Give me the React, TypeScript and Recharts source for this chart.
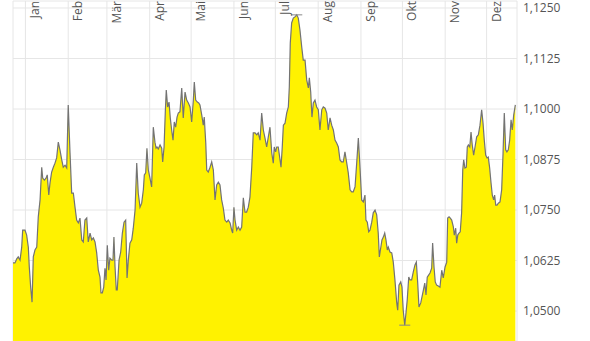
import { AreaChart, Area, XAxis, YAxis, CartesianGrid, ReferenceLine } from 'recharts'

// days since 23 Dec
const days = [
  0, 1.4, 2.7, 3.8, 5.1, 6.3, 7.0, 8.7, 9.9, 11.1, 11.8, 12.8, 13.8, 14.7, 15.9, 17.2, 18.3, 19.6, 20.8, 21.5,
  22.7, 23.9, 24.8, 25.9, 26.8, 28.0, 29.2, 30.4, 31.6, 32.8, 34.0, 35.3, 36.4, 37.7, 38.9, 40.0, 41.3, 42.5, 43.7, 44.9,
  46.1, 47.3, 48.5, 49.8, 50.9, 52.1, 53.4, 54.5, 55.8, 57.0, 58.2, 59.4, 60.6, 61.8, 63.0, 63.7, 64.7, 65.7, 66.6, 67.4,
  68.3, 69.3, 70.2, 71.5, 72.4, 73.1, 73.9, 74.8, 75.5, 76.8, 78.0, 79.2, 80.4, 81.6, 82.6, 83.5, 84.7, 86.0, 87.1, 88.4,
  89.6, 90.7, 92.0, 93.2, 94.4, 95.1, 96.1, 97.0, 98.0, 99.2, 100.4, 101.6, 102.8, 103.6, 104.3, 105.2, 106.5, 107.7, 108.4, 109.4,
  110.3, 111.0, 112.0, 113.0, 113.9, 114.9, 115.9, 116.8, 117.8, 118.8, 119.7, 120.9, 122.2, 123.3, 124.6, 125.8, 127.0, 128.2, 129.4, 130.6,
  131.3, 132.3, 133.5, 134.5, 135.4, 136.7, 137.8, 138.5, 139.6, 140.3, 141.4, 142.7, 143.9, 145.1, 146.3, 147.5, 148.7, 149.9, 151.1, 152.3,
  153.5, 154.8, 155.9, 157.2, 158.4, 159.1, 160.0, 160.8, 162.0, 163.2, 164.4, 165.6, 166.8, 168.0, 169.2, 170.4, 171.6, 172.9, 174.0, 175.3,
  176.5, 177.6, 178.9, 180.1, 181.3, 182.5, 183.7, 184.9, 186.1, 187.4, 188.5, 189.2, 190.2, 191.0, 192.1, 193.4, 194.1, 195.0, 195.8, 197.0,
  198.2, 199.4, 200.1, 200.8, 201.8, 203.0, 204.2, 205.5, 206.6, 207.8, 209.1, 210.2, 211.5, 212.7, 213.9, 214.6, 215.6, 216.5, 217.5, 218.7,
  219.9, 221.1, 222.3, 223.6, 224.7, 226.0, 227.2, 228.3, 229.6, 230.8, 232.0, 233.2, 234.4, 235.6, 236.8, 238.0, 239.2, 240.4, 241.7, 242.8,
  244.1, 245.3, 246.4, 247.7, 248.9, 250.1, 251.3, 252.5, 253.7, 254.9, 255.6, 256.6, 257.6, 258.5, 259.8, 260.9, 262.2, 263.4, 264.5, 265.3,
  266.3, 267.2, 268.2, 269.2, 270.1, 271.1, 271.8, 273.0, 274.3, 275.4, 276.6, 277.9, 278.6, 279.5, 280.8, 281.7, 282.6, 283.7, 284.6, 285.5,
  286.6, 287.5, 288.7, 289.9, 291.1, 292.1, 293.1, 294.0, 295.3, 296.2, 297.2, 298.2, 299.1, 300.0, 301.0, 302.0, 303.2, 303.9, 304.9, 305.8,
  306.8, 308.0, 309.2, 310.5, 311.6, 312.9, 314.1, 314.8, 315.8, 316.7, 317.7, 318.9, 319.6, 320.6, 321.3, 322.1, 323.0, 323.9, 324.9, 325.7,
  326.4, 327.3, 328.3, 329.0, 329.8, 330.8, 331.7, 332.6, 333.6, 334.6, 335.8, 337.0, 338.2, 339.4, 340.4, 341.3, 342.3, 343.3, 344.2, 345.2,
  346.2, 347.1, 348.1, 348.8, 349.6, 350.5, 351.5, 352.7, 353.9, 354.9, 355.8, 356.8, 357.7, 358.7, 359.7, 360.7, 361.6, 362.6, 363.8,
]

const rates = [
  1.0619, 1.0619, 1.0629, 1.0634, 1.0626, 1.0658, 1.0700, 1.0700, 1.0688, 1.0658, 1.0609, 1.0559, 1.0522, 1.0634, 1.0651, 1.0658, 1.0733, 1.0775, 1.0856, 1.0829,
  1.0824, 1.0829, 1.0837, 1.0787, 1.0817, 1.0844, 1.0856, 1.0866, 1.0879, 1.0918, 1.0899, 1.0874, 1.0856, 1.0861, 1.0854, 1.1010, 1.0891, 1.0792, 1.0792, 1.0757,
  1.0725, 1.0718, 1.0730, 1.0676, 1.0671, 1.0725, 1.0730, 1.0671, 1.0693, 1.0676, 1.0681, 1.0671, 1.0644, 1.0601, 1.0584, 1.0545, 1.0545, 1.0559, 1.0606, 1.0577,
  1.0663, 1.0601, 1.0631, 1.0626, 1.0626, 1.0683, 1.0609, 1.0552, 1.0552, 1.0626, 1.0646, 1.0693, 1.0720, 1.0725, 1.0582, 1.0626, 1.0668, 1.0676, 1.0705, 1.0750,
  1.0866, 1.0792, 1.0757, 1.0767, 1.0800, 1.0837, 1.0842, 1.0903, 1.0849, 1.0829, 1.0807, 1.0955, 1.0918, 1.0903, 1.0906, 1.0901, 1.0911, 1.0903, 1.0869, 1.0906,
  1.0993, 1.1047, 1.1005, 1.1017, 1.0978, 1.0948, 1.0923, 1.0968, 1.0955, 1.0980, 1.0990, 1.0993, 1.1052, 1.0978, 1.1042, 1.1022, 1.1015, 1.1005, 1.0968, 1.1022,
  1.1067, 1.1022, 1.1017, 1.1015, 1.1010, 1.0985, 1.0960, 1.0980, 1.0916, 1.0849, 1.0844, 1.0856, 1.0869, 1.0849, 1.0775, 1.0812, 1.0819, 1.0812, 1.0775, 1.0755,
  1.0725, 1.0720, 1.0725, 1.0718, 1.0700, 1.0693, 1.0757, 1.0725, 1.0700, 1.0708, 1.0700, 1.0708, 1.0780, 1.0745, 1.0745, 1.0757, 1.0782, 1.0856, 1.0941, 1.0941,
  1.0936, 1.0941, 1.0923, 1.0990, 1.0948, 1.0928, 1.0906, 1.0931, 1.0955, 1.0891, 1.0866, 1.0906, 1.0894, 1.0906, 1.0906, 1.0874, 1.0856, 1.0906, 1.0960, 1.0965,
  1.0990, 1.1005, 1.1054, 1.1163, 1.1213, 1.1225, 1.1228, 1.1233, 1.1225, 1.1196, 1.1153, 1.1121, 1.1121, 1.1072, 1.1052, 1.1077, 1.1042, 1.0980, 1.1015, 1.1022,
  1.1005, 1.0998, 1.0948, 1.0998, 1.1005, 1.1002, 1.0990, 1.0948, 1.0978, 1.0960, 1.0948, 1.0923, 1.0916, 1.0906, 1.0874, 1.0869, 1.0869, 1.0894, 1.0866, 1.0842,
  1.0800, 1.0795, 1.0795, 1.0807, 1.0866, 1.0928, 1.0856, 1.0775, 1.0770, 1.0787, 1.0725, 1.0720, 1.0696, 1.0700, 1.0720, 1.0743, 1.0750, 1.0738, 1.0693, 1.0634,
  1.0656, 1.0676, 1.0683, 1.0693, 1.0676, 1.0651, 1.0658, 1.0646, 1.0644, 1.0621, 1.0577, 1.0520, 1.0502, 1.0564, 1.0572, 1.0559, 1.0502, 1.0465, 1.0495, 1.0527,
  1.0584, 1.0577, 1.0577, 1.0597, 1.0614, 1.0621, 1.0569, 1.0510, 1.0520, 1.0535, 1.0552, 1.0569, 1.0540, 1.0584, 1.0589, 1.0594, 1.0606, 1.0668, 1.0609, 1.0572,
  1.0564, 1.0562, 1.0559, 1.0601, 1.0582, 1.0609, 1.0621, 1.0730, 1.0733, 1.0730, 1.0725, 1.0708, 1.0688, 1.0705, 1.0668, 1.0688, 1.0693, 1.0696, 1.0743, 1.0849,
  1.0874, 1.0854, 1.0856, 1.0906, 1.0911, 1.0906, 1.0943, 1.0911, 1.0886, 1.0906, 1.0931, 1.0936, 1.0960, 1.0998, 1.0965, 1.0923, 1.0886, 1.0879, 1.0881, 1.0854,
  1.0817, 1.0787, 1.0775, 1.0787, 1.0762, 1.0762, 1.0767, 1.0770, 1.0800, 1.0891, 1.0990, 1.0899, 1.0894, 1.0899, 1.0923, 1.0973, 1.0948, 1.0985, 1.1010,
]

const monthDays = [9, 40, 68, 99, 129, 160, 190, 221, 252, 282, 313, 343]
const monthLabels = ['Jan', 'Feb', 'Mär', 'Apr', 'Mai', 'Jun', 'Jul', 'Aug', 'Sep', 'Okt', 'Nov', 'Dez']
const rateTicks = [1.05, 1.0625, 1.075, 1.0875, 1.1, 1.1125, 1.125]

const data = days.map((d, i) => ({ day: d, rate: rates[i] }))

const maxRate = Math.max(...rates)
const minRate = Math.min(...rates)
const maxDay = days[rates.indexOf(maxRate)]
const minDay = days[rates.indexOf(minRate)]

const FONT = '"Open Sans", sans-serif'

function MonthTick(props: any) {
  const { x, payload } = props
  const idx = monthDays.indexOf(payload.value)
  return (
    <text
      transform={`translate(${x + 14},1) rotate(-90)`}
      textAnchor="end"
      fontSize={12}
      fontFamily={FONT}
      fill="#555"
    >
      {monthLabels[idx]}
    </text>
  )
}

export default function App() {
  return (
    <div style={{ position: 'absolute', left: 0, top: 0, background: '#fff' }}>
      <AreaChart width={590} height={341} data={data} margin={{ top: 0, right: 13, bottom: 0, left: 13 }}>
        <CartesianGrid stroke="#e6e6e6" />
        <XAxis
          dataKey="day"
          type="number"
          orientation="top"
          domain={[0, 365]}
          ticks={monthDays}
          interval={0}
          height={1}
          axisLine={false}
          tickLine={false}
          tick={(p: any) => <MonthTick {...p} />}
          allowDataOverflow
        />
        <YAxis
          orientation="right"
          domain={[1.04258, 1.12673]}
          ticks={rateTicks}
          interval={0}
          width={60}
          axisLine={false}
          tickLine={false}
          tickSize={0}
          tickMargin={6}
          allowDataOverflow
          tickFormatter={(v: number) => v.toFixed(4).replace('.', ',')}
          tick={{ fill: '#555', fontSize: 12, fontFamily: FONT }}
        />
        <Area
          type="linear"
          dataKey="rate"
          stroke="#737373"
          strokeWidth={1.2}
          fill="#fff200"
          fillOpacity={1}
          dot={false}
          isAnimationActive={false}
        />
        <ReferenceLine segment={[{ x: maxDay - 4, y: maxRate }, { x: maxDay + 4, y: maxRate }]} stroke="#888" />
        <ReferenceLine segment={[{ x: minDay - 4, y: minRate }, { x: minDay + 4, y: minRate }]} stroke="#888" />
      </AreaChart>
    </div>
  )
}
